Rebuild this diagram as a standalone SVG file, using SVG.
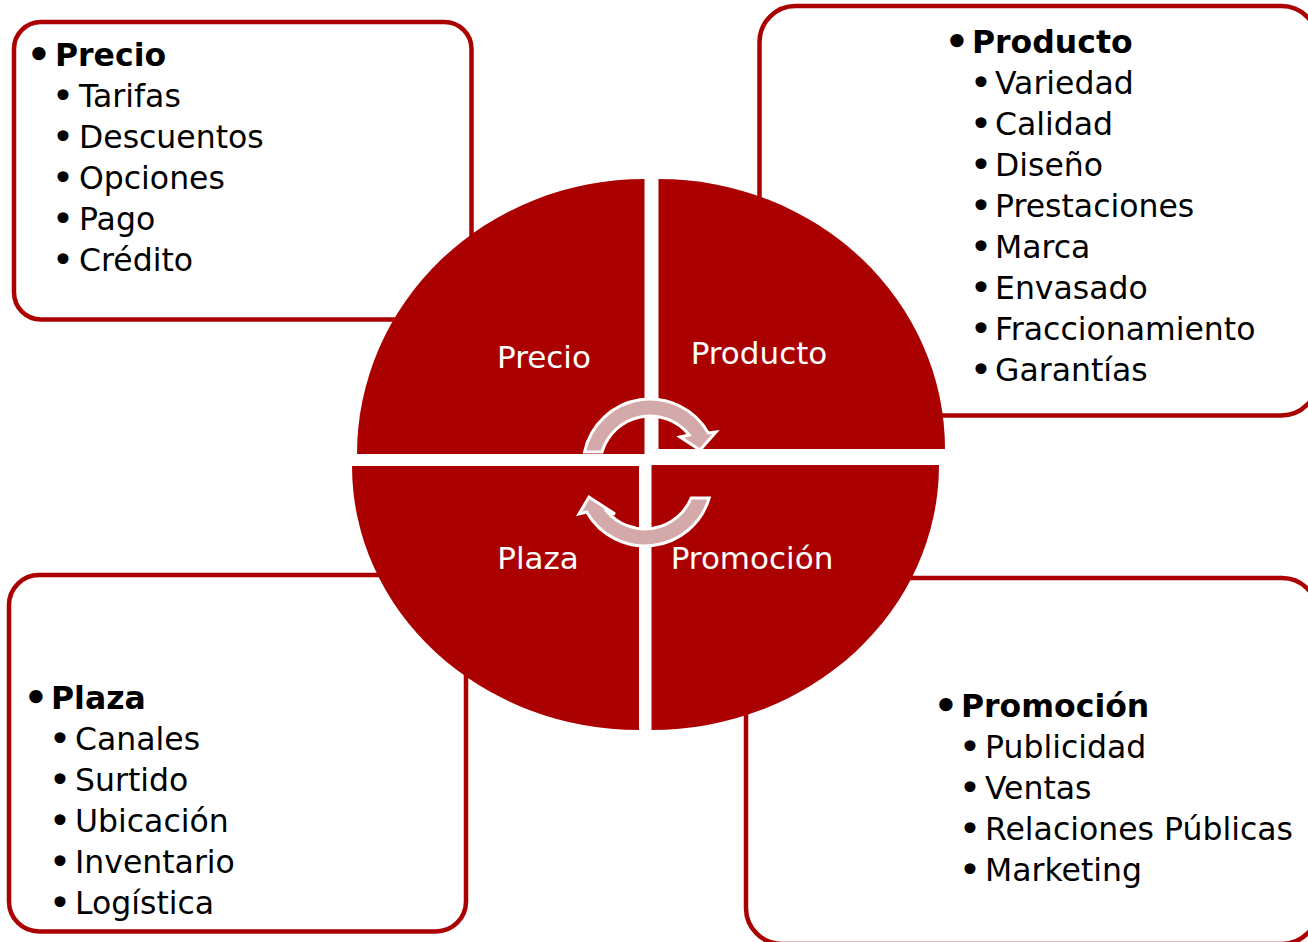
<svg xmlns="http://www.w3.org/2000/svg" width="1308" height="942" viewBox="0 0 1308 942">
<defs>
<style>
.box{fill:#fff;stroke:#AB0000;stroke-width:4.5}
.q{fill:#AB0000}
.arr{fill:#D4A9AA;stroke:#fff;stroke-width:3;stroke-linejoin:miter}
.t{font-family:"DejaVu Sans","Verdana",sans-serif;font-size:31.5px;fill:#000}
.h{font-weight:bold}
.b{font-family:"DejaVu Sans","Verdana",sans-serif;font-size:38px;fill:#000;text-anchor:middle}
.w{font-family:"DejaVu Sans","Verdana",sans-serif;font-size:31px;fill:#fff;text-anchor:middle}
</style>
</defs>
<rect width="1308" height="942" fill="#fff"/>
<g id="box-precio">
<rect class="box" x="14" y="22" width="457.5" height="297.5" rx="27"/>
<text class="b h" x="39" y="68">•</text><text class="t h" x="55" y="66">Precio</text>
<text class="b" x="63" y="109">•</text><text class="t" x="79" y="107">Tarifas</text>
<text class="b" x="63" y="150">•</text><text class="t" x="79" y="148">Descuentos</text>
<text class="b" x="63" y="191">•</text><text class="t" x="79" y="189">Opciones</text>
<text class="b" x="63" y="232">•</text><text class="t" x="79" y="230">Pago</text>
<text class="b" x="63" y="273">•</text><text class="t" x="79" y="271">Crédito</text>
</g>
<g id="box-producto">
<rect class="box" x="759.5" y="6" width="558" height="409.5" rx="36"/>
<text class="b h" x="957" y="55">•</text><text class="t h" x="972" y="53">Producto</text>
<text class="b" x="981" y="96">•</text><text class="t" x="995" y="94">Variedad</text>
<text class="b" x="981" y="137">•</text><text class="t" x="995" y="135">Calidad</text>
<text class="b" x="981" y="178">•</text><text class="t" x="995" y="176">Diseño</text>
<text class="b" x="981" y="219">•</text><text class="t" x="995" y="217">Prestaciones</text>
<text class="b" x="981" y="260">•</text><text class="t" x="995" y="258">Marca</text>
<text class="b" x="981" y="301">•</text><text class="t" x="995" y="299">Envasado</text>
<text class="b" x="981" y="342">•</text><text class="t" x="995" y="340">Fraccionamiento</text>
<text class="b" x="981" y="383">•</text><text class="t" x="995" y="381">Garantías</text>
</g>
<g id="box-plaza">
<rect class="box" x="9" y="575" width="457" height="356.5" rx="30"/>
<text class="b h" x="36" y="711">•</text><text class="t h" x="51" y="709">Plaza</text>
<text class="b" x="60" y="752">•</text><text class="t" x="75" y="750">Canales</text>
<text class="b" x="60" y="793">•</text><text class="t" x="75" y="791">Surtido</text>
<text class="b" x="60" y="834">•</text><text class="t" x="75" y="832">Ubicación</text>
<text class="b" x="60" y="875">•</text><text class="t" x="75" y="873">Inventario</text>
<text class="b" x="60" y="916">•</text><text class="t" x="75" y="914">Logística</text>
</g>
<g id="box-promocion">
<rect class="box" x="746" y="578" width="572" height="366" rx="36"/>
<text class="b h" x="946" y="719">•</text><text class="t h" x="961" y="717">Promoción</text>
<text class="b" x="970" y="760">•</text><text class="t" x="985" y="758">Publicidad</text>
<text class="b" x="970" y="801">•</text><text class="t" x="985" y="799">Ventas</text>
<text class="b" x="970" y="842">•</text><text class="t" x="985" y="840">Relaciones Públicas</text>
<text class="b" x="970" y="883">•</text><text class="t" x="985" y="881">Marketing</text>
</g>
<g id="q-precio">
<path class="q" d="M644.5 454 L357 454 A287.5 275 0 0 1 644.5 179 Z"/>
<text class="w" x="544" y="368">Precio</text>
</g>
<g id="q-producto">
<path class="q" d="M658.5 449 L658.5 179 A286.5 270 0 0 1 945 449 Z"/>
<text class="w" x="759" y="364">Producto</text>
</g>
<g id="q-plaza">
<path class="q" d="M639 466 L639 730 A287 264 0 0 1 352 466 Z"/>
<text class="w" x="538" y="569">Plaza</text>
</g>
<g id="q-promocion">
<path class="q" d="M651.5 465 L939 465 A287.5 265 0 0 1 651.5 730 Z"/>
<text class="w" x="752" y="569">Promoción</text>
</g>
<g id="connectors">
<path class="arr" d="M584.5 452 A67 67 0 0 1 708.3 433 L716 432 L700 450 L680 437 L689.2 435 A50 50 0 0 0 602 452 Z"/>
<path class="arr" d="M709.2 498 A67 67 0 0 1 586.7 512 L579 514 L589 497 L615 514 L607.4 512 A50 50 0 0 0 691.2 498 Z"/>
</g>
</svg>
